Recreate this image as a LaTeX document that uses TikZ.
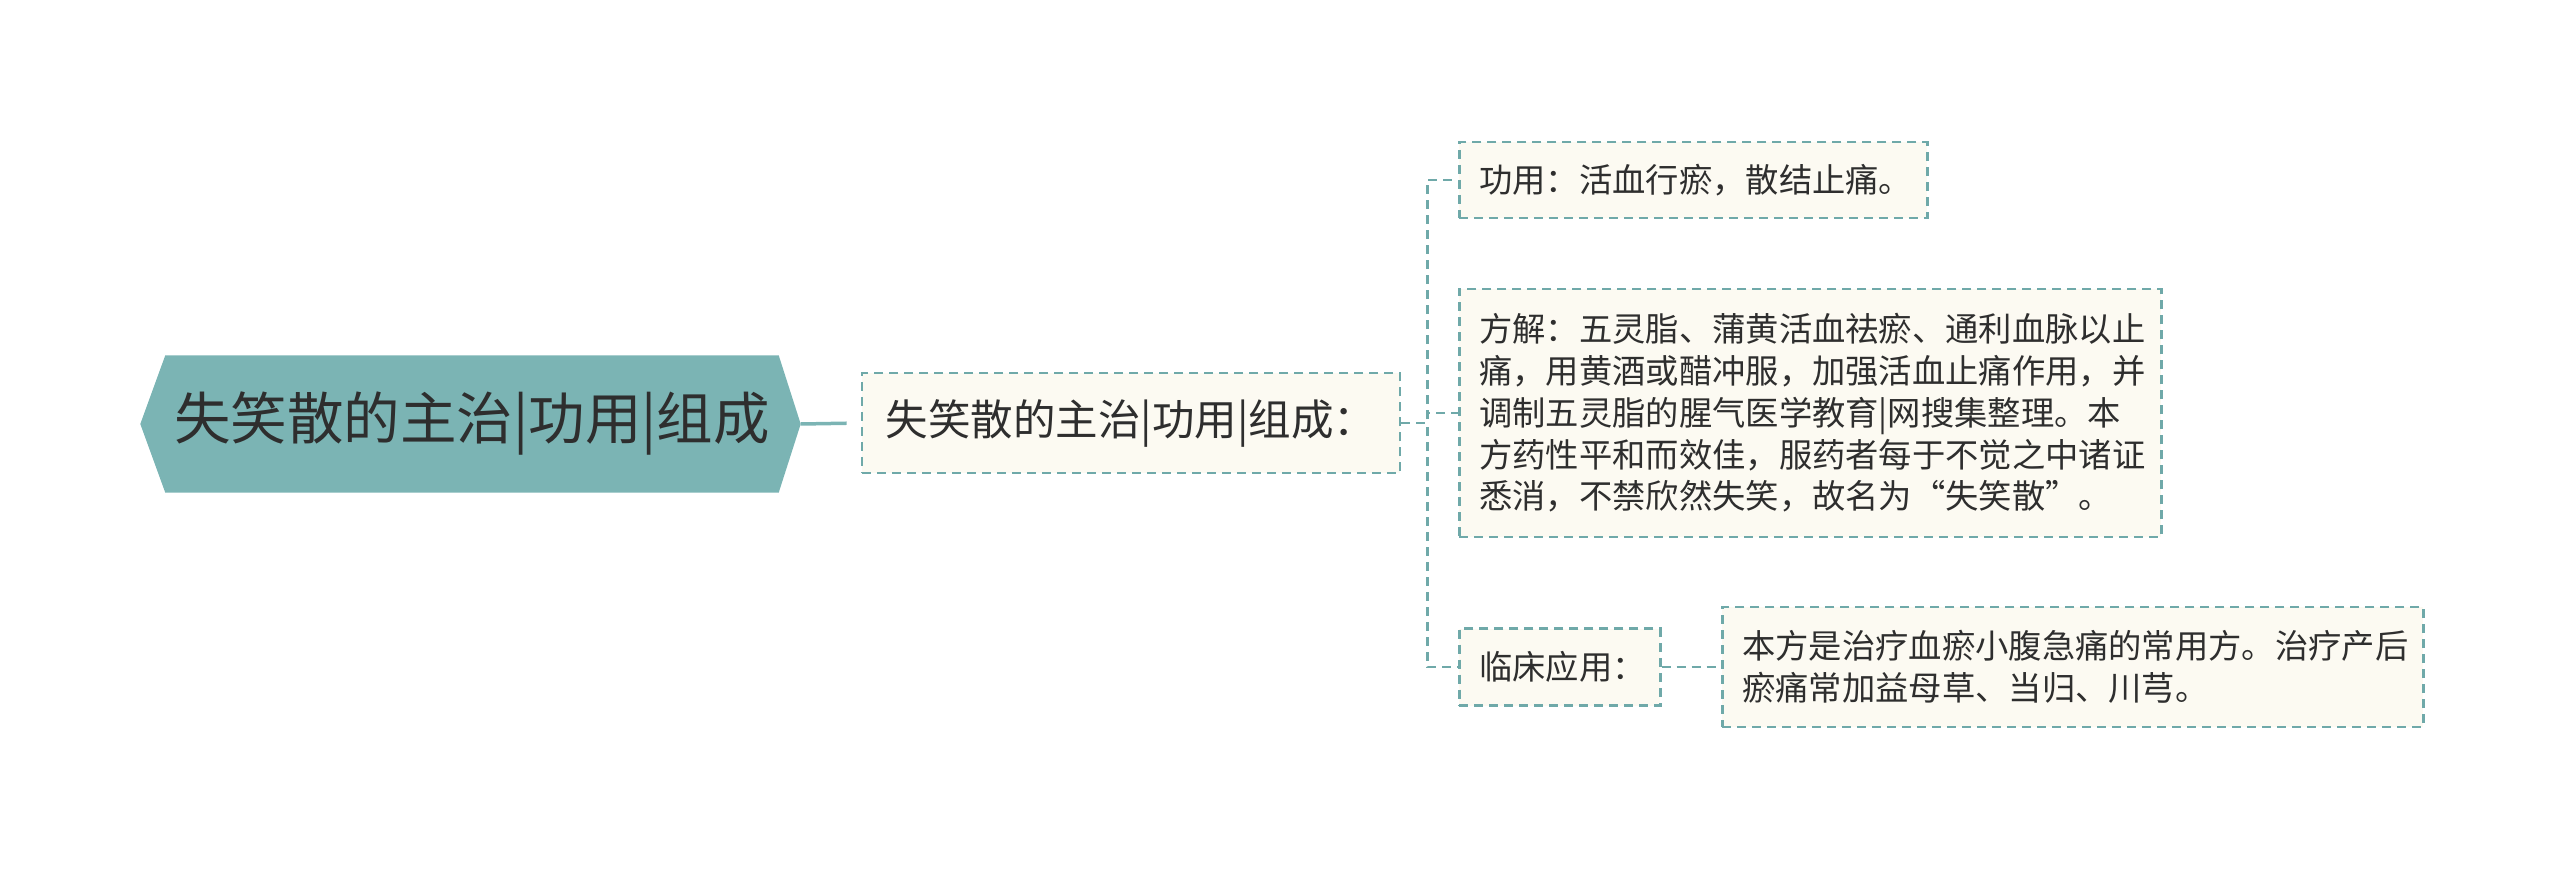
\documentclass[tikz,border=0pt]{standalone}
\usepackage{fontspec}
\newfontfamily\cjk{Noto Sans CJK SC}
\usetikzlibrary{positioning,backgrounds}
\definecolor{rootfill}{HTML}{7BB4B4}
\definecolor{edgecol}{HTML}{6FA9A9}
\definecolor{cream}{HTML}{FCFAF2}
\definecolor{txt}{HTML}{2E2E2E}

\begin{document}
\begin{tikzpicture}
[x=1pt, y=-1pt,
root/.style  = {inner sep=0pt, minimum width=613pt, minimum height=137pt, text=txt, font=\cjk\fontsize{56.5}{66}\selectfont},
topic/.style = {draw=edgecol, line width=2.6pt, dash pattern=on 9pt off 6pt, fill=cream, text=txt, inner sep=0pt, font=\cjk\fontsize{42.5}{50}\selectfont},
leaf/.style  = {draw=edgecol, line width=2.6pt, dash pattern=on 9pt off 6pt, fill=cream, text=txt, inner xsep=20pt, inner ysep=0pt, align=left, anchor=west, font=\cjk\fontsize{33.3}{41.7}\selectfont},
trunk/.style = {draw=rootfill, line width=3.5pt},
link/.style  = {draw=edgecol, line width=2.6pt, dash pattern=on 9pt off 6pt}
]
\useasboundingbox (0,0) rectangle (2560,869);

% root and main topic
\node [root] (root) at (472,424) {失笑散的主治|功用|组成};
\node [topic, minimum width=538pt, minimum height=100pt] (main) at (1131,423) {失笑散的主治|功用|组成：};

% leaves
\node [leaf, text width=428pt, minimum height=76pt] (effect) at (1458,180) {功用：活血行瘀，散结止痛。};
\node [leaf, text width=662pt, minimum height=248pt] (recipe) at (1458,413)
  {方解：五灵脂、蒲黄活血祛瘀、通利血脉以止\\
   痛，用黄酒或醋冲服，加强活血止痛作用，并\\
   调制五灵脂的腥气医学教育|网搜集整理。本\\
   方药性平和而效佳，服药者每于不觉之中诸证\\
   悉消，不禁欣然失笑，故名为“失笑散”。};
\node [leaf, text width=161pt, minimum height=77pt] (clinic) at (1458,667) {临床应用：};
\node [leaf, text width=661pt, minimum height=120pt] (usage) at (1721,667)
  {本方是治疗血瘀小腹急痛的常用方。治疗产后\\
   瘀痛常加益母草、当归、川芎。};

\begin{scope}[on background layer]
\fill [rootfill] (root.north west) -- (root.north east) -- ([xshift=22pt]root.east)
  -- (root.south east) -- (root.south west) -- ([xshift=-25pt]root.west) -- cycle;
\end{scope}

\path [trunk, shorten >=14pt] ([xshift=22pt]root.east) -- (main.west);
\path [link] (main.east) -- ++(26,0) |- (effect.west);
\path [link] (main.east) -- ++(26,0) |- (recipe.west);
\path [link] (main.east) -- ++(26,0) |- (clinic.west);
\path [link] (clinic.east) -- (usage.west);

\end{tikzpicture}
\end{document}
